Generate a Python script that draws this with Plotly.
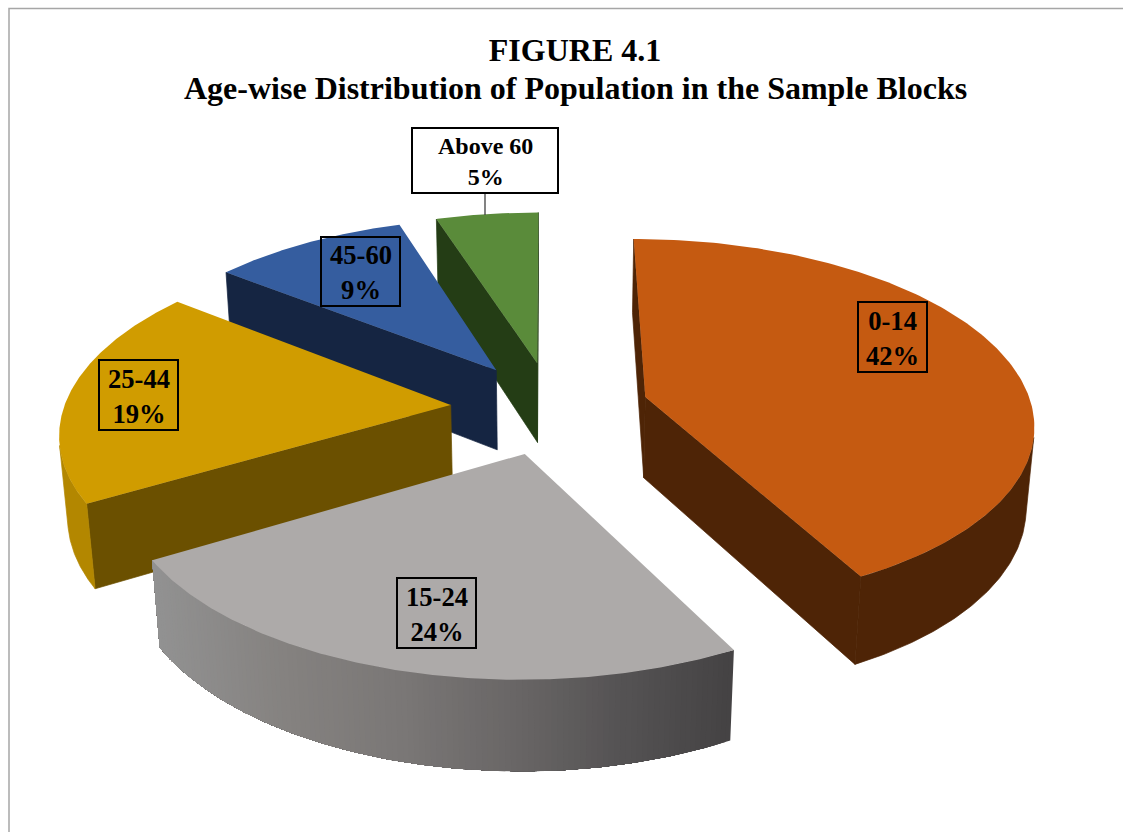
import numpy as np
import plotly.graph_objects as go

# ---- data ----
categories = ["0-14", "15-24", "25-44", "45-60", "Above 60"]
values = [42.21, 24.2, 19.0, 9.45, 4.94]
explode = [0.2495, 0.2535, 0.2640, 0.2600, 0.2578]
title_lines = ["FIGURE 4.1", "Age-wise Distribution of Population in the Sample Blocks"]

# ---- styles ----
top_colors = ["#C55A11", "#ADAAA9", "#D09C00", "#355D9F", "#5A8B3A"]
radial_colors = ["#4E2406", "#6E6C6B", "#6B5000", "#152542", "#243D15"]
outer_colors = ["#4E2406", None, "#B38700", "#152542", "#243D15"]
grey_stops = [(150, (146, 146, 146)), (280, (133, 130, 128)), (400, (122, 119, 118)),
              (520, (104, 101, 101)), (620, (85, 83, 84)), (735, (68, 66, 67))]

# ---- projection of the 3-D pie on the page ----
CX, CY, F, TILT, DIST, HEIGHT, ROT = 552.3784, 407.9874, 2546.0719, 0.4899, 6.5811, 0.2418, -0.002
cam = np.array([0.0, -DIST * np.cos(TILT), DIST * np.sin(TILT)])


def project(X, Y, Z):
    v = Y * np.sin(TILT) + Z * np.cos(TILT)
    D = DIST + Y * np.cos(TILT) - Z * np.sin(TILT)
    return CX + F * X / D, CY - F * v / D


def facing(p, n):
    return np.dot(cam - p, n) > 0


def poly(fig, xs, ys, color, name, lw=0.0):
    fig.add_trace(go.Scatter(
        x=list(xs) + [xs[0]], y=list(ys) + [ys[0]], mode="lines", fill="toself",
        fillcolor=color, line=dict(color=color, width=lw), hoverinfo="text",
        text=name, showlegend=False))


def grey_at(x):
    px = [s[0] for s in grey_stops]
    c = [np.interp(x, px, [s[1][k] for s in grey_stops]) for k in range(3)]
    return "rgb(%d,%d,%d)" % tuple(round(v) for v in c)


fracs = np.cumsum([0] + values) / sum(values)
bounds = fracs * 2 * np.pi + ROT

fig = go.Figure()


def wall(xa, ya, color, name, lw=0.7):
    xt, yt = project(xa, ya, 0.0)
    xb, yb = project(xa[::-1], ya[::-1], -HEIGHT)
    poly(fig, list(xt) + list(xb), list(yt) + list(yb), color, name, lw)


def wedge(i):
    a0, a1 = bounds[i], bounds[i + 1]
    mid = (a0 + a1) / 2
    ox, oy = explode[i] * np.sin(mid), explode[i] * np.cos(mid)
    name = f"{categories[i]}: {round(values[i])}%"
    # radial walls
    for a, sign in ((a0, -1), (a1, 1)):
        ex, ey = ox + np.sin(a), oy + np.cos(a)
        n = np.array([sign * np.cos(a), -sign * np.sin(a), 0.0])
        if facing(np.array([ox, oy, -HEIGHT / 2]), n):
            wall(np.array([ox, ex]), np.array([oy, ey]), radial_colors[i], name)
    # outer wall: only the arc that faces the viewer
    aa = np.linspace(a0, a1, 241)
    keep = [facing(np.array([ox + np.sin(m), oy + np.cos(m), -HEIGHT / 2]),
                   np.array([np.sin(m), np.cos(m), 0.0])) for m in aa]
    aa = aa[np.array(keep)]
    if len(aa) > 1:
        ax, ay = ox + np.sin(aa), oy + np.cos(aa)
        if outer_colors[i]:
            wall(ax, ay, outer_colors[i], name)
        else:
            # gradient: each band runs to the end of the arc, the next one paints over it
            for j in range(0, len(aa) - 1, 2):
                xm = project(ax[j:j + 3], ay[j:j + 3], 0.0)[0].mean()
                wall(ax[j:], ay[j:], grey_at(xm), name, lw=0.0)
    # top face
    fa = np.linspace(a0, a1, 181)
    xs, ys = project(np.r_[ox, ox + np.sin(fa)], np.r_[oy, oy + np.cos(fa)], 0.0)
    poly(fig, xs, ys, top_colors[i], name)


for i in (4, 3, 2, 1, 0):
    wedge(i)

# ---- layout ----
FONT = "Liberation Serif"
label_boxes = [(858, 302, 927, 372, 26.6, None), (397, 578, 476, 648, 26.6, None),
               (99, 360, 178, 430, 26.6, None), (321, 237, 400, 306, 26.6, None),
               (412, 128, 558, 193, 24, "white")]
shapes = [
    dict(type="path", path="M 9 833 L 9 8.5 L 1124 8.5", line=dict(color="#A6A6A6", width=1.5), layer="below"),
    dict(type="line", x0=485, x1=485, y0=193, y1=215, line=dict(color="#404040", width=1.3)),
]
annotations = [dict(x=575, y=87.5, xref="x", yref="y", text=f"<b>{title_lines[1]}</b>", showarrow=False,
                    font=dict(family=FONT, size=32, color="#000000"))]
for cat, val, (x0, y0, x1, y1, fs, bg) in zip(categories, values, label_boxes):
    shapes.append(dict(type="rect", x0=x0, x1=x1, y0=y0, y1=y1,
                       line=dict(color="#000000", width=2), fillcolor=bg or "rgba(0,0,0,0)"))
    annotations.append(dict(
        x=(x0 + x1) / 2, y=(y0 + y1) / 2 + 1, xref="x", yref="y", text=f"<b>{cat}<br>{round(val)}%</b>",
        showarrow=False, align="center", font=dict(family=FONT, size=fs, color="#000000")))

fig.update_layout(
    width=1123, height=832, margin=dict(l=0, r=0, t=0, b=0), autosize=False,
    paper_bgcolor="white", plot_bgcolor="white", showlegend=False,
    title=dict(text=f"<b>{title_lines[0]}</b>",
               x=575 / 1123, xanchor="center", y=1 - 50 / 832, yanchor="middle",
               font=dict(family=FONT, size=32, color="#000000")),
    xaxis=dict(range=[0, 1123], visible=False, fixedrange=True),
    yaxis=dict(range=[832, 0], visible=False, fixedrange=True),
    shapes=shapes, annotations=annotations)

fig.write_html("out.html", post_script="document.body.style.margin='0';document.body.style.overflow='hidden';",
               config=dict(displayModeBar=False))
